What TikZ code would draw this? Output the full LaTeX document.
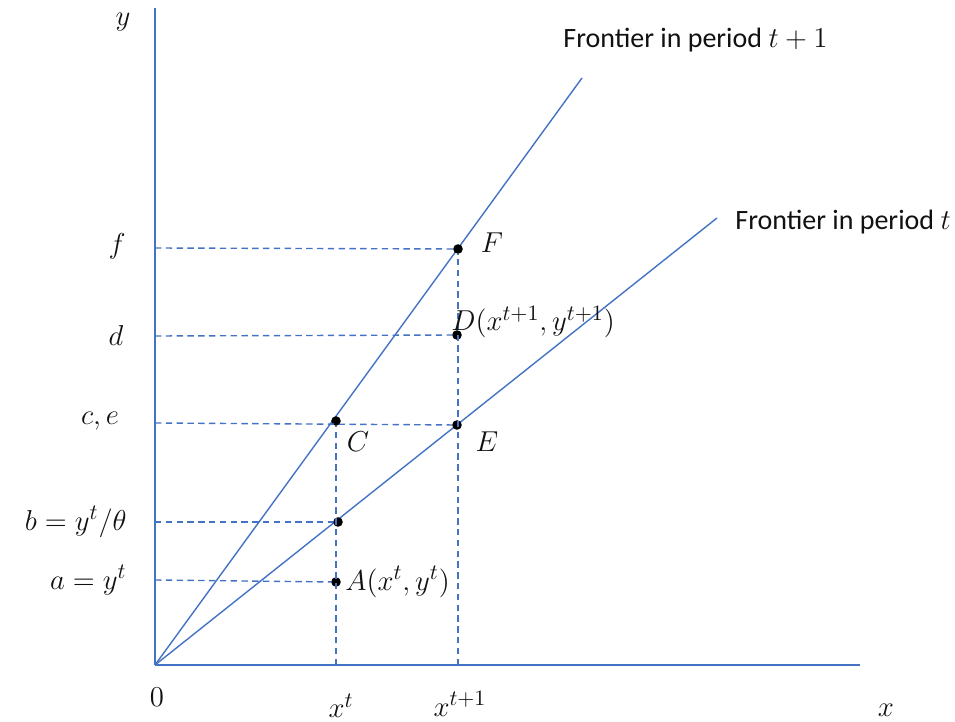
\documentclass[tikz,border=0pt]{standalone}
\usepackage{fontspec}
\setmainfont{Carlito}
\usepackage{tikz}
\usetikzlibrary{positioning,calc}
\definecolor{cLine}{HTML}{4472C4}
\definecolor{cInk}{HTML}{111111}

\begin{document}
\begin{tikzpicture}[
  x=0.5pt, y=-0.5pt,
  font=\fontsize{14}{17}\selectfont,
  ax/.style={draw=cLine, line width=0.8pt},
  fr/.style={draw=cLine, line width=0.7pt},
  guide/.style={draw=cLine, line width=0.7pt, dash pattern=on 3.2pt off 2.2pt},
  dot/.style={circle, fill=black, inner sep=0pt, minimum size=4.8pt},
  lab/.style={text=cInk, inner sep=1pt, font=\fontsize{15.5}{18}\selectfont},
  frontlab/.style={text=cInk, inner sep=1pt, anchor=west}]

\useasboundingbox (0,0) rectangle (955,722);

% ---- axes ----
\coordinate (O) at (155,665);
\coordinate (ytop) at (155,8);
\coordinate (xend) at (860,665);
\draw[ax] (O) -- (ytop);
\draw[ax] (O) -- (xend);

% ---- frontiers ----
\coordinate (ft1) at (582,78);
\coordinate (ft0) at (717,218);
\draw[fr] (O) -- (ft1);
\draw[fr] (O) -- (ft0);

% ---- points ----
\node[dot] (F) at (458,249) {};
\node[dot] (D) at (457,335) {};
\node[dot] (C) at (336,421) {};
\node[dot] (E) at (457,425) {};
\node[dot] (B) at (338,522) {};
\node[dot] (A) at (336,582) {};

% ---- axis feet ----
\coordinate (xt) at (336,665);
\coordinate (xt1) at (458,665);
\coordinate (yf) at (155,248);
\coordinate (yd) at (155,336);
\coordinate (yc) at (155,423);
\coordinate (yb) at (155,522);
\coordinate (ya) at (155,580);

% ---- guides ----
\draw[guide] (yf) -- (F);
\draw[guide] (yd) -- (D);
\draw[guide] (yc) -- (E);
\draw[guide] (yb) -- (B);
\draw[guide] (ya) -- (A);
\draw[guide] (xt) -- (C);
\draw[guide] (xt1) -- (F);

% ---- labels ----
\node[lab] (ly) at (123,22) {$y$};
\node[lab] (lx) at (886,710) {$x$};
\node[lab] (l0) at (157,697) {$0$};
\node[lab] (lxt) at (341,706) {$x^{t}$};
\node[lab] (lxt1) at (460,704) {$x^{t+1}$};
\node[lab] (lf) at (117,246) {$f$};
\node[lab] (ld) at (116,336) {$d$};
\node[lab] (lc) at (100,421) {$c,e$};
\node[lab, anchor=east] (lb) at (129,522) {$b=y^{t}/\theta$};
\node[lab, anchor=east] (la) at (129,580) {$a=y^{t}$};
\node[lab] (lF) at (492,243) {$F$};
\node[lab, anchor=west] (lD) at (449,322) {$D(x^{t+1},y^{t+1})$};
\node[lab] (lC) at (358,442) {$C$};
\node[lab] (lE) at (487,442) {$E$};
\node[lab, anchor=west] (lA) at (343,582) {$A(x^{t},y^{t})$};
\node[frontlab] (lt1) at (561,40) {Frontier in period $t+1$};
\node[frontlab] (lt0) at (733,222) {Frontier in period $t$};
\end{tikzpicture}
\end{document}
